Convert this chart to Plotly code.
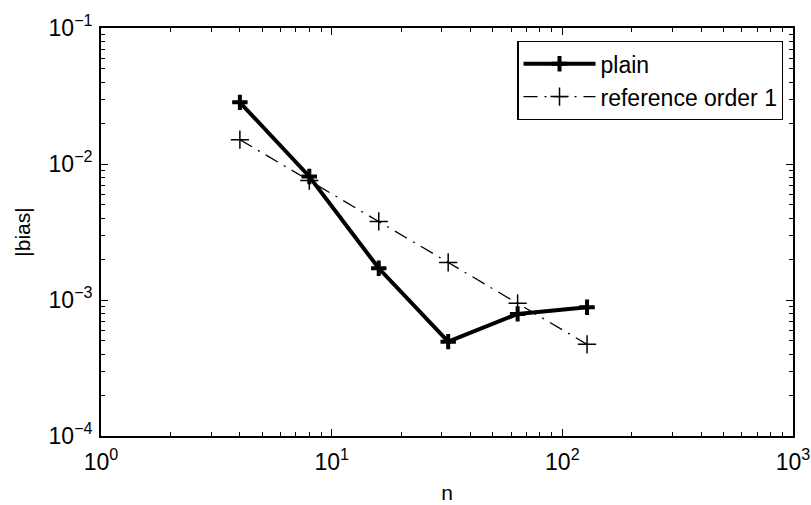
import plotly.graph_objects as go

n = [4, 8, 16, 32, 64, 128]
plain = [0.0284, 0.0081, 0.00171, 0.000494, 0.00079, 0.000885]
reference = [0.0151, 0.00755, 0.00378, 0.00189, 0.000945, 0.000472]

x_tickvals = [1, 10, 100, 1000]
x_ticktext = ["10<sup>0</sup>", "10<sup>1</sup>", "10<sup>2</sup>", "10<sup>3</sup>"]
y_tickvals = [1e-4, 1e-3, 1e-2, 1e-1]
y_ticktext = ["10<sup>−4</sup>", "10<sup>−3</sup>", "10<sup>−2</sup>", "10<sup>−1</sup>"]

font = "Liberation Sans, Arial, sans-serif"

fig = go.Figure()
fig.add_trace(go.Scatter(
    x=n, y=plain, name="plain", mode="lines+markers",
    line=dict(color="black", width=4),
    marker=dict(symbol="cross-thin", size=11, color="black",
                line=dict(color="black", width=4)),
))
fig.add_trace(go.Scatter(
    x=n, y=reference, name="reference order 1", mode="lines+markers",
    line=dict(color="black", width=1.3, dash="14px,7px,2px,7px"),
    marker=dict(symbol="cross-thin", size=13, color="black",
                line=dict(color="black", width=1.5)),
))

axis_common = dict(
    type="log", showgrid=False, zeroline=False, automargin=False,
    showline=True, linecolor="black", linewidth=1.8, mirror="ticks",
    ticks="inside", ticklen=7, tickcolor="black", tickwidth=1,
    tickfont=dict(size=23, color="black", family=font),
    minor=dict(ticks="inside", ticklen=4, tickcolor="black", tickwidth=1,
               dtick="D1", showgrid=False),
)

fig.update_xaxes(**axis_common, range=[0, 3], tickvals=x_tickvals, ticktext=x_ticktext,
                 ticklabelstandoff=4,
                 title=dict(text="n", font=dict(size=21, color="black", family=font), standoff=12))
fig.update_yaxes(**axis_common, range=[-4, -1], tickvals=y_tickvals, ticktext=y_ticktext,
                 ticklabelstandoff=2,
                 title=dict(text="|bias|", font=dict(size=21, color="black", family=font), standoff=12))

fig.update_layout(
    width=811, height=505,
    margin=dict(l=101, r=18, t=28, b=69),
    paper_bgcolor="white", plot_bgcolor="white",
    font=dict(family=font, color="black"),
    showlegend=True,
    legend=dict(
        x=0.986, y=0.968, xanchor="right", yanchor="top",
        bgcolor="white", bordercolor="black", borderwidth=1.2,
        font=dict(size=23, color="black", family=font),
        itemwidth=72, tracegroupgap=0,
    ),
)

fig.write_html("out.html")
